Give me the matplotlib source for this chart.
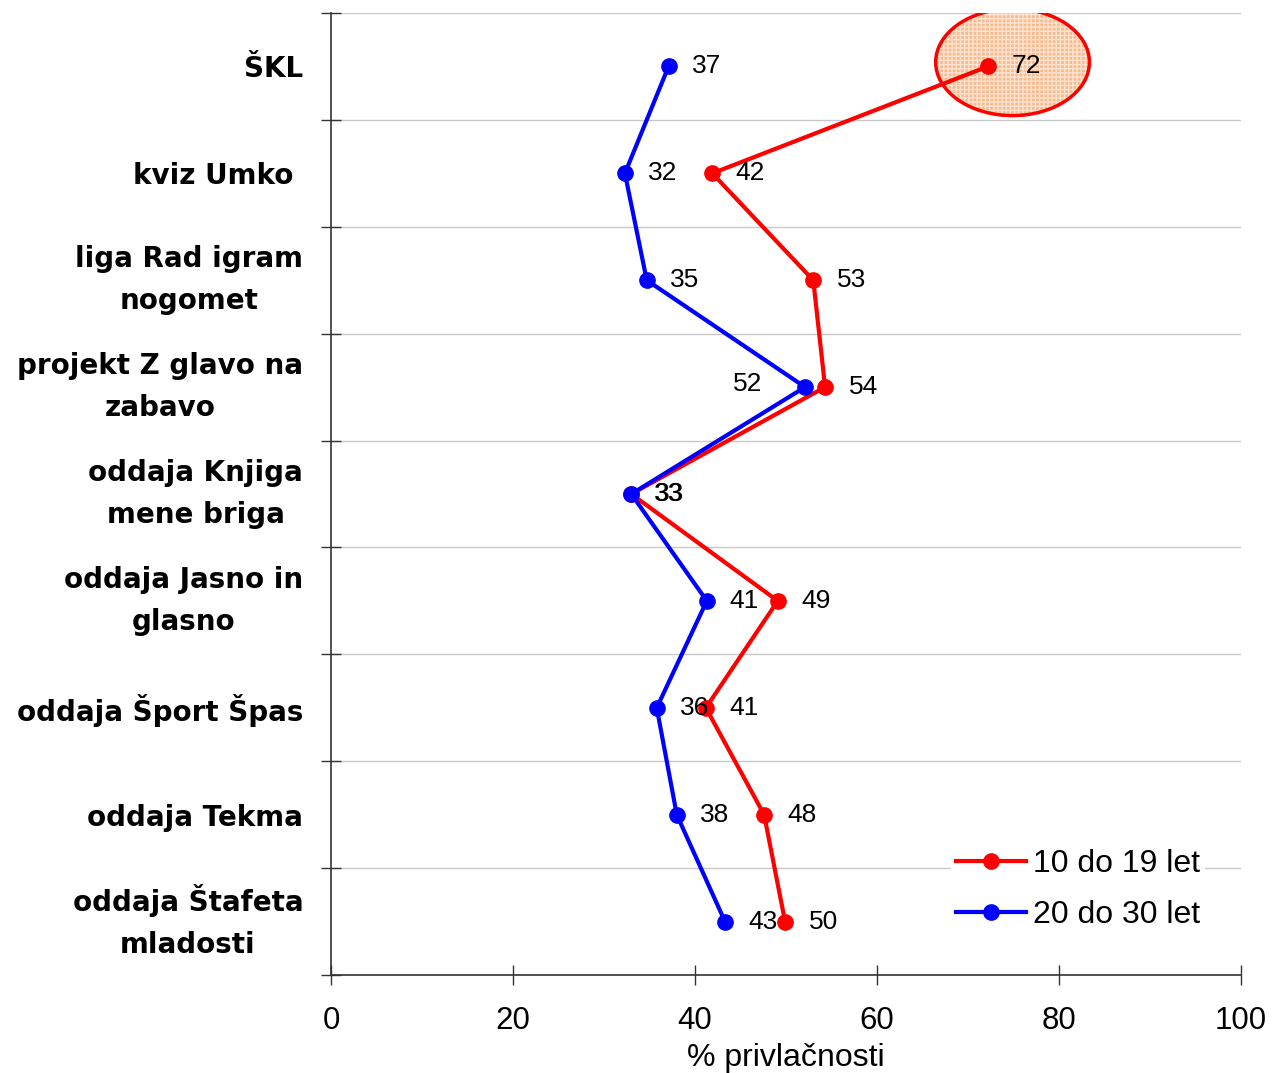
import numpy as np
import matplotlib
matplotlib.use("Agg")
import matplotlib.pyplot as plt
from matplotlib.patches import Ellipse
from matplotlib.ticker import FixedLocator

categories = ["ŠKL", "kviz Umko ", "liga Rad igram\nnogomet", "projekt Z glavo na\nzabavo",
              "oddaja Knjiga\nmene briga", "oddaja Jasno in\nglasno", "oddaja Šport Špas",
              "oddaja Tekma", "oddaja Štafeta\nmladosti"]
age_10_19 = [72.2, 41.9, 53.0, 54.3, 33.0, 49.1, 41.2, 47.6, 49.9]
age_20_30 = [37.1, 32.3, 34.7, 52.1, 33.0, 41.3, 35.8, 38.0, 43.3]
x_ticks = [0, 20, 40, 60, 80, 100]

plt.rcParams['font.family'] = ['Liberation Sans', 'DejaVu Sans']

fig = plt.figure(figsize=(12.72, 10.73), dpi=100)
ax = fig.add_axes([0.2602, 0.0913, 0.7154, 0.8966])

ypos = np.arange(len(categories))

# highlight round the top red point
ell = Ellipse((age_10_19[0] + 2.7, ypos[0] - 0.04), 16.9, 1.0,
              facecolor='#F9BA8E', edgecolor='none', zorder=1)
ax.add_patch(ell)
ax.add_patch(Ellipse((age_10_19[0] + 2.7, ypos[0] - 0.04), 16.9, 1.0,
                     fill=False, hatch='++++', edgecolor='#FCE3D0', linewidth=0, zorder=1.1))
ax.add_patch(Ellipse((age_10_19[0] + 2.7, ypos[0] - 0.04), 16.9, 1.0,
                     fill=False, edgecolor='#FF0000', linewidth=2.5, zorder=1.2))

ax.plot(age_10_19, ypos, color='#FF0000', lw=3, marker='o', ms=11, label='10 do 19 let', zorder=3)
ax.plot(age_20_30, ypos, color='#0000FF', lw=3, marker='o', ms=11, label='20 do 30 let', zorder=4)

for i, (r, b) in enumerate(zip(age_10_19, age_20_30)):
    ax.annotate(f"{r:.0f}", (r, i), xytext=(17, 0), textcoords='offset points',
                ha='left', va='center', fontsize=19, zorder=5)
    if i == 3:
        ax.annotate(f"{b:.0f}", (b, i), xytext=(-31, 2), textcoords='offset points',
                    ha='right', va='center', fontsize=19, zorder=5)
    else:
        ax.annotate(f"{b:.0f}", (b, i), xytext=(16.5, 0), textcoords='offset points',
                    ha='left', va='center', fontsize=19, zorder=5)

ax.set_xlim(0, 100)
ax.set_ylim(len(categories) - 0.5, -0.5)
ax.set_xticks(x_ticks)
ax.set_yticks(ypos)
ax.set_yticklabels(categories, fontsize=20, fontweight='bold', family='DejaVu Sans')
for lbl in ax.get_yticklabels():
    lbl.set_multialignment('center')
    lbl.set_linespacing(1.62)
    if "\n" in lbl.get_text():
        lbl.set_va('center')
ax.yaxis.set_minor_locator(FixedLocator(np.arange(-0.5, len(categories), 1)))
ax.tick_params(axis='y', which='major', length=0, pad=20)
ax.tick_params(axis='y', which='minor', direction='inout', length=14, width=1, color='#333333')
ax.tick_params(axis='x', direction='inout', length=14, width=1, color='#333333', labelsize=22.5, pad=15)
ax.grid(axis='y', which='minor', color='#C8C8C8', lw=1)
ax.set_axisbelow(True)

for side in ['top', 'right']:
    ax.spines[side].set_visible(False)
for side in ['left', 'bottom']:
    ax.spines[side].set_color('#333333')
    ax.spines[side].set_linewidth(1.2)

ax.set_xlabel("% privlačnosti", fontsize=23, labelpad=5)

leg = ax.legend(loc='lower right', bbox_to_anchor=(0.96, 0.042), fontsize=23, frameon=True,
                handlelength=2.2, handletextpad=0.2, labelspacing=0.65, borderpad=0.15,
                borderaxespad=0)
leg.get_frame().set_facecolor('white')
leg.get_frame().set_edgecolor('none')
leg.get_frame().set_alpha(1)

fig.savefig("out.png", dpi=100)
